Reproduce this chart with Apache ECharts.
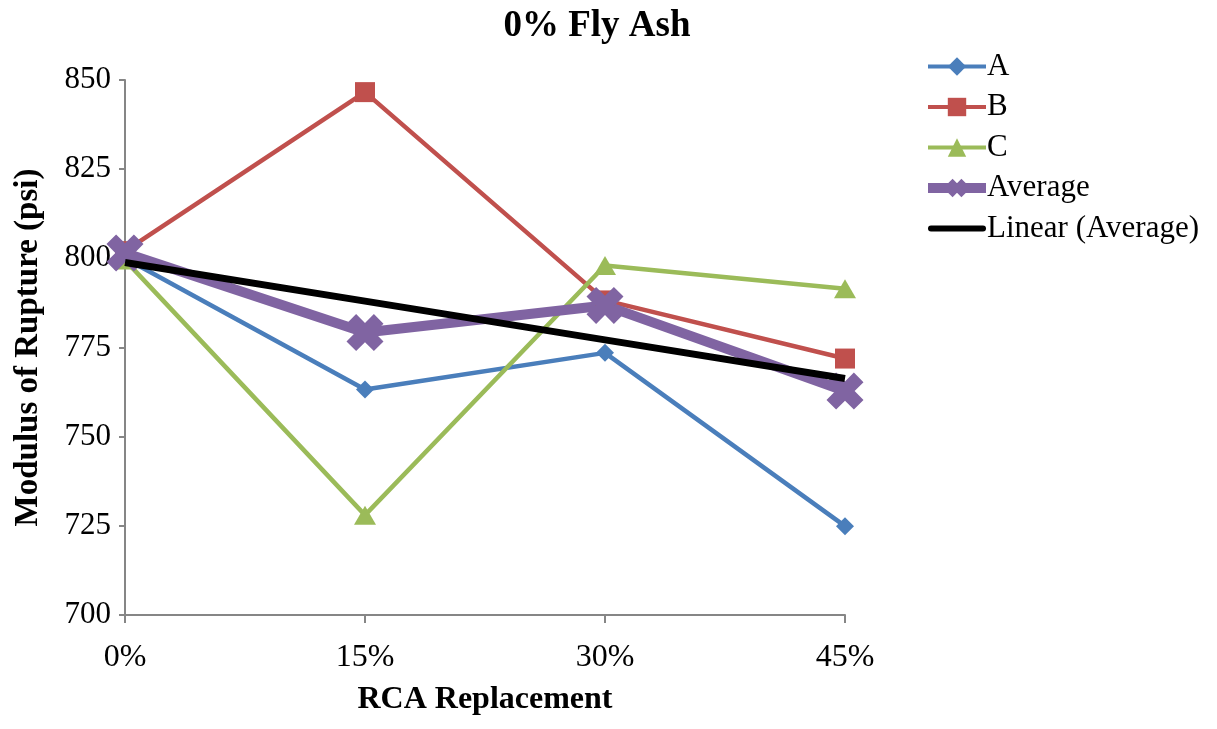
<!DOCTYPE html>
<html><head><meta charset="utf-8">
<script src="https://cdn.jsdelivr.net/npm/echarts@6/dist/echarts.min.js"></script>
<style>html,body{margin:0;padding:0;background:#fff}#c{width:1217px;height:729px}</style>
</head><body><div id="c"></div>
<script>
const categories = ['0%', '15%', '30%', '45%'];
const seriesA = [800.0, 763.2, 773.5, 724.9];
const seriesB = [802.0, 846.6, 788.2, 771.9];
const seriesC = [799.5, 728.0, 798.0, 791.5];
const average = [801.5, 779.2, 786.8, 762.8];
const yTicks = [700, 725, 750, 775, 800, 825, 850];

// linear regression (Excel "Linear" trendline) over the Average series
function linearFit(vals) {
  const n = vals.length;
  let sx = 0, sy = 0, sxx = 0, sxy = 0;
  vals.forEach((v, i) => { sx += i; sy += v; sxx += i * i; sxy += i * v; });
  const b = (n * sxy - sx * sy) / (n * sxx - sx * sx);
  const a = (sy - b * sx) / n;
  return vals.map((_, i) => a + b * i);
}
const trend = linearFit(average);

const FONT = 'Liberation Serif';
const xPath = 'path://M0,2.6 L2.6,0 L5,2.4 L7.4,0 L10,2.6 L7.6,5 L10,7.4 L7.4,10 L5,7.6 L2.6,10 L0,7.4 L2.4,5 Z';
const barPath = 'path://M3,0 L55,0 A3,3 0 0 1 55,6 L3,6 A3,3 0 0 1 3,0 Z';

const chart = echarts.init(document.getElementById('c'), null, {renderer: 'canvas'});
chart.setOption({
  animation: false,
  backgroundColor: '#fff',
  title: {
    text: '0% Fly Ash', left: 592, top: 3, textAlign: 'center',
    textStyle: {fontFamily: FONT, fontWeight: 'bold', fontSize: 37, color: '#000'}
  },
  legend: {
    orient: 'vertical', left: 923, top: 51, padding: 0,
    itemWidth: 58, itemHeight: 23, itemGap: 9.5,
    textStyle: {fontFamily: FONT, fontSize: 31, color: '#000', padding: [0, 0, 0, -4]},
    data: [
      {name: 'A', lineStyle: {width: 4}},
      {name: 'B', lineStyle: {width: 4}},
      {name: 'C', lineStyle: {width: 4}},
      {name: 'Average', lineStyle: {width: 10}},
      {name: 'Linear (Average)', icon: barPath, itemStyle: {color: '#000'}}
    ]
  },
  grid: {left: 125, right: 372, top: 80, bottom: 114, containLabel: false},
  xAxis: {
    type: 'category', data: categories, boundaryGap: false,
    name: 'RCA Replacement', nameLocation: 'middle', nameGap: 69,
    nameTextStyle: {fontFamily: FONT, fontWeight: 'bold', fontSize: 32, color: '#000', verticalAlign: 'top'},
    axisLine: {lineStyle: {color: '#868686', width: 2}},
    axisTick: {show: true, inside: false, length: 8, alignWithLabel: true, lineStyle: {color: '#868686', width: 2}},
    axisLabel: {fontFamily: FONT, fontSize: 32, color: '#000', margin: 27},
    splitLine: {show: false}
  },
  yAxis: {
    type: 'value', min: yTicks[0], max: yTicks[yTicks.length - 1], interval: 25,
    name: 'Modulus of Rupture (psi)', nameLocation: 'middle', nameGap: 80,
    nameTextStyle: {fontFamily: FONT, fontWeight: 'bold', fontSize: 33, color: '#000'},
    axisLine: {show: true, lineStyle: {color: '#868686', width: 2}},
    axisTick: {show: true, inside: false, length: 6, lineStyle: {color: '#868686', width: 2}},
    axisLabel: {fontFamily: FONT, fontSize: 31, color: '#000', margin: 14},
    splitLine: {show: false}
  },
  series: [
    {name: 'A', type: 'line', data: seriesA, color: '#4A7EBB',
     lineStyle: {width: 4.5, color: '#4A7EBB'}, symbol: 'diamond', symbolSize: 18,
     itemStyle: {color: '#4A7EBB'}},
    {name: 'B', type: 'line', data: seriesB, color: '#C0504D',
     lineStyle: {width: 4.5, color: '#C0504D'}, symbol: 'rect', symbolSize: 20,
     itemStyle: {color: '#C0504D'}},
    {name: 'C', type: 'line', data: seriesC, color: '#9BBB59',
     lineStyle: {width: 4.5, color: '#9BBB59'}, symbol: 'triangle', symbolSize: [22, 19],
     itemStyle: {color: '#9BBB59'}},
    {name: 'Average', type: 'line', data: average, color: '#8064A2',
     lineStyle: {width: 10, color: '#8064A2'}, symbol: xPath, symbolSize: 37,
     itemStyle: {color: '#8064A2'}},
    {name: 'Linear (Average)', type: 'line', data: trend, color: '#000',
     lineStyle: {width: 7, color: '#000'}, symbol: 'none', z: 5}
  ]
});
</script></body></html>
